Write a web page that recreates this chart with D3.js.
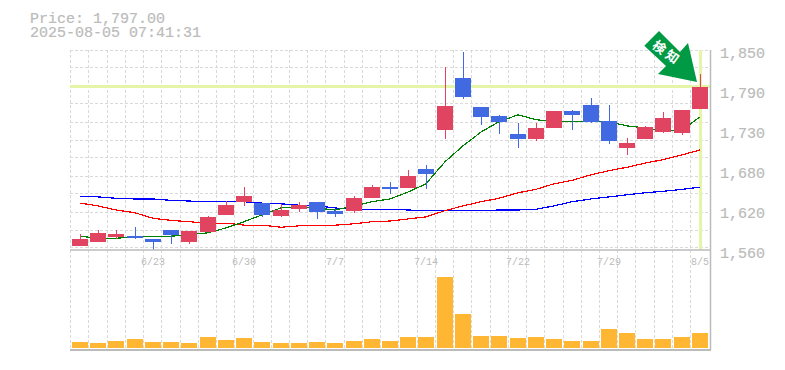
<!DOCTYPE html>
<html>
<head>
<meta charset="utf-8">
<script src="https://cdn.jsdelivr.net/npm/d3@7"></script>
<style>
    html, body { margin: 0; padding: 0; background: #fff; }
    svg { display: block; }
    text { fill: #bbb; font-family: "Liberation Mono", monospace; }
</style>
</head>
<body>
<div id="chart"></div>
<script>
var dates = ["6/17", "6/18", "6/19", "6/20", "6/23", "6/24", "6/25", "6/26", "6/27", "6/30",
    "7/1", "7/2", "7/3", "7/4", "7/7", "7/8", "7/9", "7/10", "7/11", "7/14",
    "7/15", "7/16", "7/17", "7/18", "7/22", "7/23", "7/24", "7/25", "7/28", "7/29",
    "7/30", "7/31", "8/1", "8/4", "8/5"];

var opens = [1566, 1572, 1579, 1580, 1576, 1589, 1572, 1586, 1611, 1630,
    1628, 1609, 1619, 1630, 1617, 1617, 1635, 1651, 1650, 1677,
    1734, 1809, 1767, 1754, 1728, 1721, 1737, 1762, 1770, 1747,
    1708, 1721, 1731, 1730, 1764];
var closes = [1576, 1585, 1583, 1577, 1572, 1582, 1588, 1608, 1625, 1638,
    1611, 1618, 1625, 1615, 1612, 1635, 1651, 1648, 1667, 1670,
    1769, 1782, 1753, 1746, 1721, 1737, 1762, 1756, 1746, 1718,
    1715, 1738, 1751, 1763, 1797];
var highs = [1583, 1589, 1589, 1593, 1576, 1589, 1588, 1609, 1631, 1651,
    1628, 1627, 1630, 1630, 1619, 1638, 1654, 1659, 1676, 1683,
    1825, 1847, 1767, 1756, 1744, 1744, 1762, 1763, 1780, 1770,
    1722, 1740, 1760, 1763, 1815];
var lows = [1566, 1572, 1576, 1576, 1560, 1569, 1569, 1586, 1611, 1624,
    1608, 1608, 1615, 1605, 1608, 1614, 1635, 1641, 1650, 1648,
    1721, 1779, 1741, 1728, 1708, 1718, 1737, 1734, 1744, 1714,
    1698, 1721, 1730, 1727, 1764];

var maShort = [1580, 1577, 1577, 1579, 1579, 1580, 1582, 1585, 1592, 1601,
    1611, 1621, 1622, 1621, 1618, 1624, 1630, 1634, 1644, 1656,
    1688, 1711, 1731, 1746, 1756, 1749, 1746, 1746, 1746, 1746,
    1740, 1737, 1733, 1734, 1753];
var maMid = [1628, 1624, 1618, 1614, 1606, 1603, 1601, 1599, 1599, 1596,
    1596, 1593, 1595, 1596, 1596, 1598, 1601, 1602, 1605, 1608,
    1617, 1624, 1630, 1635, 1643, 1648, 1656, 1661, 1669, 1675,
    1680, 1686, 1691, 1698, 1705];
var maLong = [1637, 1637, 1635, 1634, 1634, 1632, 1631, 1630, 1630, 1630,
    1628, 1627, 1625, 1624, 1621, 1619, 1619, 1619, 1618, 1617,
    1617, 1617, 1617, 1618, 1618, 1619, 1624, 1630, 1634, 1637,
    1640, 1643, 1645, 1648, 1651];

var volumes = [6, 5, 7, 9, 6, 6, 5, 11, 8, 10,
    6, 5, 5, 6, 5, 7, 9, 7, 11, 11,
    71, 34, 12, 12, 10, 11, 9, 7, 7, 19,
    15, 9, 9, 11, 15];

var dateTicks = ["6/23", "6/30", "7/7", "7/14", "7/22", "7/29", "8/5"];
var priceTicks = [1850, 1792, 1734, 1676, 1618, 1560];
var priceTickLabels = ["1,850", "1,790", "1,730", "1,680", "1,620", "1,560"];
var currentPrice = 1797;
var titleLines = ["Price: 1,797.00", "2025-08-05 07:41:31"];
var signalLabel = "検知";

var width = 785, height = 370;
var bodyWidth = 16;

var svg = d3.select("#chart").append("svg")
    .attr("width", width)
    .attr("height", height);

var x = d3.scaleBand().domain(dates).range([70.7, 708.9]);
var y = d3.scaleLinear().domain([1560, 1850]).range([250, 50]);
var yVol = d3.scaleLinear().domain([0, 71]).range([348, 277]);

var bodyLeft = function (d) { return Math.round(x(d) + 1.3); };
var centre = function (d) { return bodyLeft(d) + bodyWidth / 2; };

// grid comes from the axes with long ticks, a line each 18px
var gridPrices = d3.range(0, 12).map(function (i) { return 1850 - i * 26.1; });

var gridX = svg.append("g").attr("transform", "translate(0,50)")
    .call(d3.axisBottom(x).tickValues(dates).tickSize(300).tickFormat(""));
gridX.selectAll(".tick").attr("transform", function (d) {
    return "translate(" + Math.floor(x(d)) + ".5,0)";
});
var gridY = svg.append("g").attr("transform", "translate(70,0)")
    .call(d3.axisRight(y).tickValues(gridPrices).tickSize(640).tickFormat(""));
gridY.selectAll(".tick").attr("transform", function (d) {
    return "translate(0," + Math.floor(y(d)) + ".5)";
});
svg.selectAll(".domain").remove();
svg.selectAll(".tick line")
    .attr("stroke", "#d9d9d9")
    .attr("stroke-dasharray", "3,2")
    .attr("shape-rendering", "crispEdges");

// current price cross
svg.append("line")
    .attr("x1", 70).attr("x2", 710)
    .attr("y1", Math.floor(y(currentPrice)) + 0.5).attr("y2", Math.floor(y(currentPrice)) + 0.5)
    .attr("stroke", "#e4f5a8").attr("stroke-width", 3)
    .attr("shape-rendering", "crispEdges");
svg.append("line")
    .attr("x1", centre("8/5") + 0.5).attr("x2", centre("8/5") + 0.5)
    .attr("y1", 50).attr("y2", 250)
    .attr("stroke", "#e4f5a8").attr("stroke-width", 3)
    .attr("shape-rendering", "crispEdges");

// moving averages
var maLine = d3.line()
    .x(function (d, i) { return centre(dates[i]); })
    .y(function (d) { return y(d); });

[[maLong, "#0000ff"], [maMid, "#ff0000"], [maShort, "#008000"]].forEach(function (s) {
    svg.append("path")
        .datum(s[0])
        .attr("d", maLine)
        .attr("fill", "none")
        .attr("stroke", s[1])
        .attr("stroke-width", 1.2)
        .attr("shape-rendering", "crispEdges");
});

// candles
var candleColour = function (i) {
    return closes[i] >= opens[i] ? "#e14460" : "#4169e1";
};

svg.selectAll(".wick").data(dates).enter().append("rect")
    .attr("class", "wick")
    .attr("x", function (d) { return centre(d); })
    .attr("width", 1)
    .attr("y", function (d, i) { return y(highs[i]); })
    .attr("height", function (d, i) { return y(lows[i]) - y(highs[i]); })
    .attr("fill", function (d, i) { return candleColour(i); })
    .attr("shape-rendering", "crispEdges");

svg.selectAll(".body").data(dates).enter().append("rect")
    .attr("class", "body")
    .attr("x", bodyLeft)
    .attr("width", bodyWidth)
    .attr("y", function (d, i) { return y(Math.max(opens[i], closes[i])); })
    .attr("height", function (d, i) { return Math.abs(y(opens[i]) - y(closes[i])); })
    .attr("fill", function (d, i) { return candleColour(i); })
    .attr("shape-rendering", "crispEdges");

// volume
svg.selectAll(".vol").data(dates).enter().append("rect")
    .attr("class", "vol")
    .attr("x", bodyLeft)
    .attr("width", bodyWidth)
    .attr("y", function (d, i) { return yVol(volumes[i]); })
    .attr("height", function (d, i) { return yVol(0) - yVol(volumes[i]); })
    .attr("fill", "#ffb733")
    .attr("shape-rendering", "crispEdges");

// frame lines
[[70, 250, 710, 250, 1.5], [70, 350, 711, 350, 2], [710.5, 50, 710.5, 350, 1.5]].forEach(function (l) {
    svg.append("line")
        .attr("x1", l[0]).attr("y1", l[1])
        .attr("x2", l[2]).attr("y2", l[3])
        .attr("stroke", "#bbb")
        .attr("stroke-width", l[4]);
});

// axis labels
var priceAxis = svg.append("g").attr("transform", "translate(720,1)")
    .call(d3.axisRight(y).tickValues(priceTicks).tickSize(0).tickPadding(0)
        .tickFormat(function (d, i) { return priceTickLabels[i]; }));
priceAxis.select(".domain").remove();
priceAxis.selectAll("text")
    .attr("dy", "0.82em")
    .attr("y", -6)
    .style("font-size", "15px")
    .style("font-family", "'Liberation Mono', monospace")
    .style("stroke", "#bbb")
    .style("stroke-width", "0.2px");

var dateAxis = svg.append("g").attr("transform", "translate(0,258)")
    .call(d3.axisBottom(x).tickValues(dateTicks).tickSize(0).tickPadding(0));
dateAxis.select(".domain").remove();
dateAxis.selectAll(".tick").attr("transform", function (d) {
    return "translate(" + centre(d) + ",0)";
});
dateAxis.selectAll("text")
    .style("font-size", "10px")
    .style("font-family", "'Liberation Mono', monospace");

svg.selectAll(".title").data(titleLines).enter().append("text")
    .attr("class", "title")
    .attr("x", 30)
    .attr("y", function (d, i) { return 23 + i * 14; })
    .style("font-size", "15px")
    .style("stroke", "#bbb")
    .style("stroke-width", "0.2px")
    .text(function (d) { return d; });

// signal arrow
svg.append("path")
    .attr("d", d3.line()([[659, 31], [644.3, 45.7], [666, 66], [658, 74], [697, 82], [688, 43], [680, 52]]))
    .attr("fill", "#009944");

svg.append("text")
    .attr("transform", "translate(667,53) rotate(36)")
    .attr("text-anchor", "middle")
    .attr("dy", "0.35em")
    .style("font-family", "'Noto Sans CJK JP', sans-serif")
    .style("font-weight", "bold")
    .style("font-size", "13px")
    .style("letter-spacing", "3px")
    .style("fill", "#fff")
    .text(signalLabel);
</script>
</body>
</html>
